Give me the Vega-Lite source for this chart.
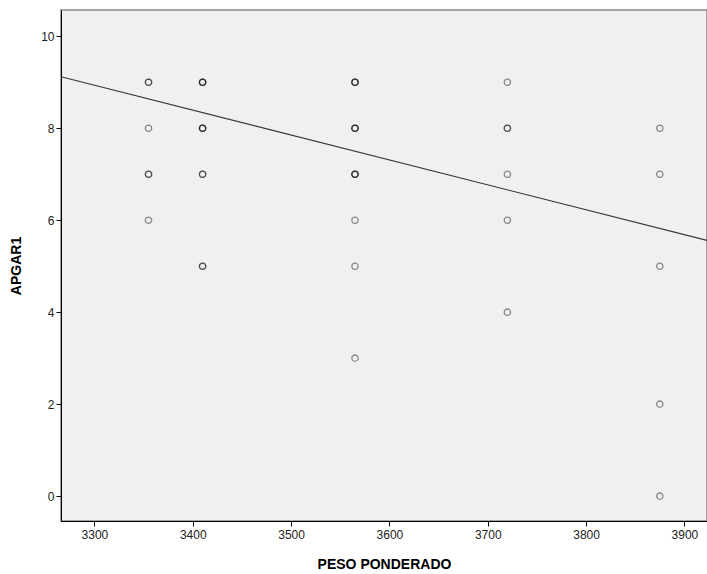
{
  "$schema": "https://vega.github.io/schema/vega-lite/v6.json",
  "width": 646,
  "height": 511,
  "autosize": {"type": "none"},
  "padding": {"left": 61, "top": 10, "right": 0, "bottom": 53},
  "background": "white",
  "config": {
    "view": {"fill": "#f0f0f0", "stroke": "#888888", "strokeWidth": 1.5},
    "font": "Liberation Sans",
    "axis": {
      "grid": false,
      "domainColor": "#000000",
      "domainWidth": 1,
      "tickColor": "#000000",
      "tickSize": 5,
      "labelFont": "Liberation Sans",
      "labelFontSize": 12,
      "labelColor": "#222222",
      "titleFont": "Liberation Sans",
      "titleFontSize": 14,
      "titleFontWeight": "bold",
      "titleColor": "#000000"
    }
  },
  "datasets": {
    "pts": [
      {"peso": 3355, "apgar": 9}, {"peso": 3355, "apgar": 9}, {"peso": 3355, "apgar": 8},
      {"peso": 3355, "apgar": 7}, {"peso": 3355, "apgar": 7}, {"peso": 3355, "apgar": 6},
      {"peso": 3410, "apgar": 9}, {"peso": 3410, "apgar": 9}, {"peso": 3410, "apgar": 9},
      {"peso": 3410, "apgar": 8}, {"peso": 3410, "apgar": 8}, {"peso": 3410, "apgar": 8},
      {"peso": 3410, "apgar": 7}, {"peso": 3410, "apgar": 7},
      {"peso": 3410, "apgar": 5}, {"peso": 3410, "apgar": 5},
      {"peso": 3565, "apgar": 9}, {"peso": 3565, "apgar": 9}, {"peso": 3565, "apgar": 9},
      {"peso": 3565, "apgar": 8}, {"peso": 3565, "apgar": 8}, {"peso": 3565, "apgar": 8},
      {"peso": 3565, "apgar": 7}, {"peso": 3565, "apgar": 7}, {"peso": 3565, "apgar": 7},
      {"peso": 3565, "apgar": 6}, {"peso": 3565, "apgar": 5}, {"peso": 3565, "apgar": 3},
      {"peso": 3720, "apgar": 9}, {"peso": 3720, "apgar": 8}, {"peso": 3720, "apgar": 8},
      {"peso": 3720, "apgar": 7}, {"peso": 3720, "apgar": 6}, {"peso": 3720, "apgar": 4},
      {"peso": 3875, "apgar": 8}, {"peso": 3875, "apgar": 7}, {"peso": 3875, "apgar": 5},
      {"peso": 3875, "apgar": 2}, {"peso": 3875, "apgar": 0}
    ],
    "fit": [
      {"peso": 3266, "apgar": 9.12},
      {"peso": 3923, "apgar": 5.56}
    ]
  },
  "layer": [
    {
      "data": {"name": "fit"},
      "mark": {"type": "line", "color": "#333333", "strokeWidth": 1.1, "clip": true},
      "encoding": {
        "x": {"field": "peso", "type": "quantitative"},
        "y": {"field": "apgar", "type": "quantitative"}
      }
    },
    {
      "data": {"name": "pts"},
      "mark": {"type": "point", "shape": "circle", "filled": false, "stroke": "#000000", "strokeOpacity": 0.62, "strokeWidth": 1.3, "size": 40, "clip": true},
      "encoding": {
        "x": {
          "field": "peso", "type": "quantitative",
          "scale": {"domain": [3266, 3923], "nice": false, "zero": false},
          "axis": {"title": "PESO PONDERADO", "format": "d", "values": [3300, 3400, 3500, 3600, 3700, 3800, 3900], "labelPadding": 3, "titlePadding": 17}
        },
        "y": {
          "field": "apgar", "type": "quantitative",
          "scale": {"domain": [-0.54, 10.57], "nice": false, "zero": false},
          "axis": {"title": "APGAR1", "format": "d", "values": [0, 2, 4, 6, 8, 10], "labelPadding": 2, "titlePadding": 17}
        }
      }
    }
  ]
}
